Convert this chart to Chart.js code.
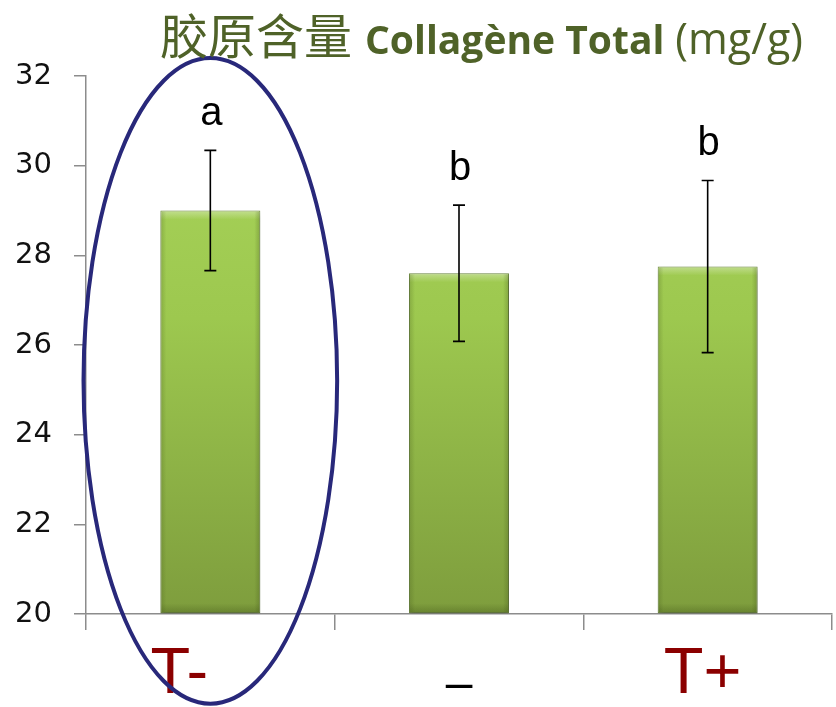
<!DOCTYPE html>
<html>
<head>
<meta charset="utf-8">
<script src="https://cdn.jsdelivr.net/npm/chart.js@4/dist/chart.umd.min.js"></script>
<style>
  html, body { margin: 0; padding: 0; background: #ffffff; }
  #wrap { width: 836px; height: 707px; }
</style>
</head>
<body>
<div id="wrap"><canvas id="c" width="836" height="707"></canvas></div>
<script>
// ---- data ----
const categories = ["T-", "–", "T+"];
const means = [29.0, 27.6, 27.75];
const errors = [1.34, 1.52, 1.92];
const sigLetters = ["a", "b", "b"];
const yTicks = [20, 22, 24, 26, 28, 30, 32];
const titleParts = ["胶原含量", "Collagène Total", "(mg/g)"];
const highlight = { index: 0, top: 32.4, bottom: 18.0 };

// ---- styles ----
const labelColors = ["#8B0000", "#000000", "#8B0000"];
const labelFonts = ["400 65px 'Liberation Sans'", "400 48px 'Liberation Sans'", "400 65px 'Liberation Sans'"];
const labelOffsetX = [-31, 0, -5];
const labelBaseline = [693, 699, 693];

const titlePlugin = {
  id: 'mixedTitle',
  afterDraw(chart) {
    const ctx = chart.ctx;
    ctx.save();
    ctx.fillStyle = '#4F6228';
    ctx.textBaseline = 'alphabetic';
    const fonts = ["400 48px 'Noto Sans CJK SC'", "700 39px 'Open Sans'", "400 43px 'Open Sans'"];
    const gaps = [13, 11, 0];
    const baselines = [54, 54, 54];
    let x = 160;
    titleParts.forEach((t, i) => {
      ctx.font = fonts[i];
      ctx.fillText(t, x, baselines[i]);
      x += ctx.measureText(t).width + gaps[i];
    });
    ctx.restore();
  }
};

const errorPlugin = {
  id: 'errorBars',
  afterDatasetsDraw(chart) {
    const ctx = chart.ctx;
    const xs = chart.scales.x, ys = chart.scales.y;
    const meta = chart.getDatasetMeta(0);
    ctx.save();
    // bevel overlays
    meta.data.forEach((bar) => {
      const l = bar.x - bar.width / 2, r = bar.x + bar.width / 2;
      const t = bar.y, b = bar.base;
      let g = ctx.createLinearGradient(0, t, 0, t + 9);
      g.addColorStop(0, 'rgba(255,255,255,0.35)');
      g.addColorStop(1, 'rgba(255,255,255,0)');
      ctx.fillStyle = g;
      ctx.fillRect(l + 1, t + 1, r - l - 2, 9);
      g = ctx.createLinearGradient(0, b - 10, 0, b);
      g.addColorStop(0, 'rgba(60,80,20,0)');
      g.addColorStop(1, 'rgba(60,80,20,0.35)');
      ctx.fillStyle = g;
      ctx.fillRect(l + 1, b - 10, r - l - 2, 10);
      g = ctx.createLinearGradient(l, 0, l + 6, 0);
      g.addColorStop(0, 'rgba(60,80,20,0.25)');
      g.addColorStop(1, 'rgba(60,80,20,0)');
      ctx.fillStyle = g;
      ctx.fillRect(l + 1, t + 1, 6, b - t - 2);
      g = ctx.createLinearGradient(r, 0, r - 6, 0);
      g.addColorStop(0, 'rgba(60,80,20,0.3)');
      g.addColorStop(1, 'rgba(60,80,20,0)');
      ctx.fillStyle = g;
      ctx.fillRect(r - 7, t + 1, 6, b - t - 2);
    });
    // error bars
    ctx.strokeStyle = '#000';
    ctx.lineWidth = 1.6;
    ctx.fillStyle = '#000';
    means.forEach((m, i) => {
      const x = xs.getPixelForValue(i);
      const yt = ys.getPixelForValue(m + errors[i]);
      const yb = ys.getPixelForValue(m - errors[i]);
      ctx.beginPath();
      ctx.moveTo(x, yt); ctx.lineTo(x, yb);
      ctx.moveTo(x - 6, yt); ctx.lineTo(x + 6, yt);
      ctx.moveTo(x - 6, yb); ctx.lineTo(x + 6, yb);
      ctx.stroke();
      ctx.font = "400 40px 'Liberation Sans'";
      ctx.textAlign = 'center';
      ctx.textBaseline = 'alphabetic';
      ctx.fillText(sigLetters[i], x + 1, yt - 25);
    });
    // x labels
    categories.forEach((lab, i) => {
      const x = xs.getPixelForValue(i) + labelOffsetX[i];
      ctx.font = labelFonts[i];
      ctx.fillStyle = labelColors[i];
      ctx.textAlign = 'center';
      ctx.fillText(lab, x, labelBaseline[i]);
    });
    // highlight ellipse
    const cx = xs.getPixelForValue(highlight.index);
    const half = (xs.getPixelForValue(1) - xs.getPixelForValue(0)) / 2;
    const yT = ys.getPixelForValue(highlight.top);
    const yB = ys.getPixelForValue(highlight.bottom);
    ctx.beginPath();
    ctx.ellipse(cx, (yT + yB) / 2, half * 1.02, (yB - yT) / 2, 0, 0, Math.PI * 2);
    ctx.strokeStyle = '#28287A';
    ctx.lineWidth = 4;
    ctx.stroke();
    ctx.restore();
  }
};

const shadowPlugin = {
  id: 'barShadow',
  beforeDatasetsDraw(chart) {
    const ctx = chart.ctx;
    ctx.save();
    ctx.shadowColor = 'rgba(0,0,0,0.35)';
    ctx.shadowBlur = 5;
    ctx.shadowOffsetX = 1;
    ctx.shadowOffsetY = 3;
  },
  afterDatasetsDraw(chart) {
    chart.ctx.restore();
  }
};

new Chart(document.getElementById('c'), {
  type: 'bar',
  data: {
    labels: categories,
    datasets: [{
      data: means,
      base: yTicks[0],
      backgroundColor(context) {
        const ca = context.chart.chartArea;
        if (!ca) return '#9BC64D';
        const g = context.chart.ctx.createLinearGradient(0, ca.top, 0, ca.bottom);
        g.addColorStop(0, '#AAD65C');
        g.addColorStop(0.45, '#9DC84F');
        g.addColorStop(1, '#7E9D3D');
        return g;
      },
      borderColor: 'rgba(95,125,45,0.9)',
      borderWidth: 1,
      borderSkipped: false,
      categoryPercentage: 1,
      barPercentage: 0.402
    }]
  },
  options: {
    responsive: false,
    animation: false,
    devicePixelRatio: 1,
    layout: { padding: { top: 76, right: 4, left: 0, bottom: 0 } },
    plugins: { legend: { display: false }, tooltip: { enabled: false }, title: { display: false } },
    scales: {
      x: {
        afterFit(s) { s.height = 93; },
        grid: { display: true, offset: true, drawOnChartArea: false, drawTicks: true, tickLength: 16, color: '#8C8C8C', lineWidth: 1.5 },
        border: { display: true, color: '#8C8C8C', width: 1.5 },
        ticks: { display: false }
      },
      y: {
        min: 20, max: 32,
        afterFit(s) { s.width = 86; },
        afterBuildTicks(s) { s.ticks = yTicks.map(v => ({ value: v })); },
        grid: { display: true, drawOnChartArea: false, drawTicks: true, tickLength: 12, color: '#8C8C8C', lineWidth: 1.5 },
        border: { display: true, color: '#8C8C8C', width: 1.5 },
        ticks: { color: '#111', padding: 22, font: { family: "'DejaVu Sans'", size: 29 } }
      }
    }
  },
  plugins: [shadowPlugin, errorPlugin, titlePlugin]
});
</script>
</body>
</html>
